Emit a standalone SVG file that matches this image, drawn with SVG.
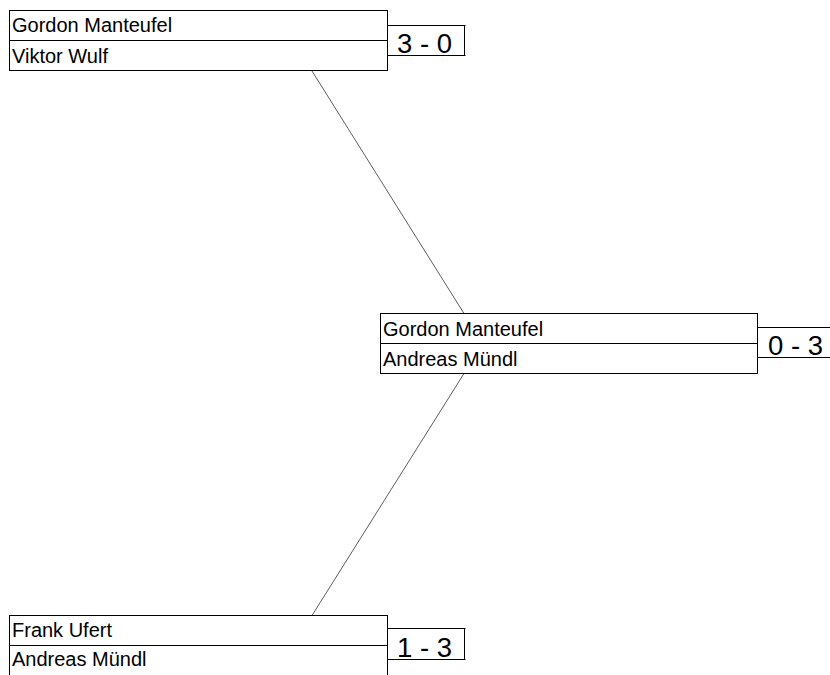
<svg xmlns="http://www.w3.org/2000/svg" width="830" height="675" viewBox="0 0 830 675">
<style>
.box{fill:#fff;stroke:#000;stroke-width:1}
.ln{stroke:#000;stroke-width:1;fill:none}
.name{font-family:"Liberation Sans",Arial,sans-serif;font-size:20px;fill:#000}
.score{font-family:"Liberation Sans",Arial,sans-serif;font-size:27.5px;fill:#000}
.conn{stroke:#333;stroke-width:0.8;fill:none}
</style>
<rect width="830" height="675" fill="#fff"/>
<g id="connectors">
<line class="conn" x1="312" y1="71" x2="464" y2="313.5"/>
<line class="conn" x1="464" y1="373.5" x2="312" y2="615.5"/>
</g>
<g id="match1">
<rect class="box" x="9.5" y="10.5" width="378" height="60"/>
<line class="ln" x1="9.5" y1="40.5" x2="387.5" y2="40.5"/>
<text class="name" x="12" y="32">Gordon Manteufel</text>
<text class="name" x="12" y="63">Viktor Wulf</text>
<path class="ln" d="M387.5 25.5H465.5M464.5 25.5V55.5M387.5 55.5H465.5"/>
<text class="score" x="397" y="53">3 - 0</text>
</g>
<g id="match2">
<rect class="box" x="380.5" y="313.5" width="377" height="60"/>
<line class="ln" x1="380.5" y1="343.5" x2="757.5" y2="343.5"/>
<text class="name" x="383" y="336">Gordon Manteufel</text>
<text class="name" x="383" y="365.5">Andreas Mündl</text>
<path class="ln" d="M757.5 327.5H830M757.5 357.5H830"/>
<text class="score" x="768" y="355">0 - 3</text>
</g>
<g id="match3">
<rect class="box" x="9.5" y="615.5" width="378" height="70"/>
<line class="ln" x1="9.5" y1="645.5" x2="387.5" y2="645.5"/>
<text class="name" x="12" y="637">Frank Ufert</text>
<text class="name" x="12" y="666">Andreas Mündl</text>
<path class="ln" d="M387.5 628.5H465.5M464.5 628.5V659.5M387.5 659.5H465.5"/>
<text class="score" x="397" y="657">1 - 3</text>
</g>
</svg>
